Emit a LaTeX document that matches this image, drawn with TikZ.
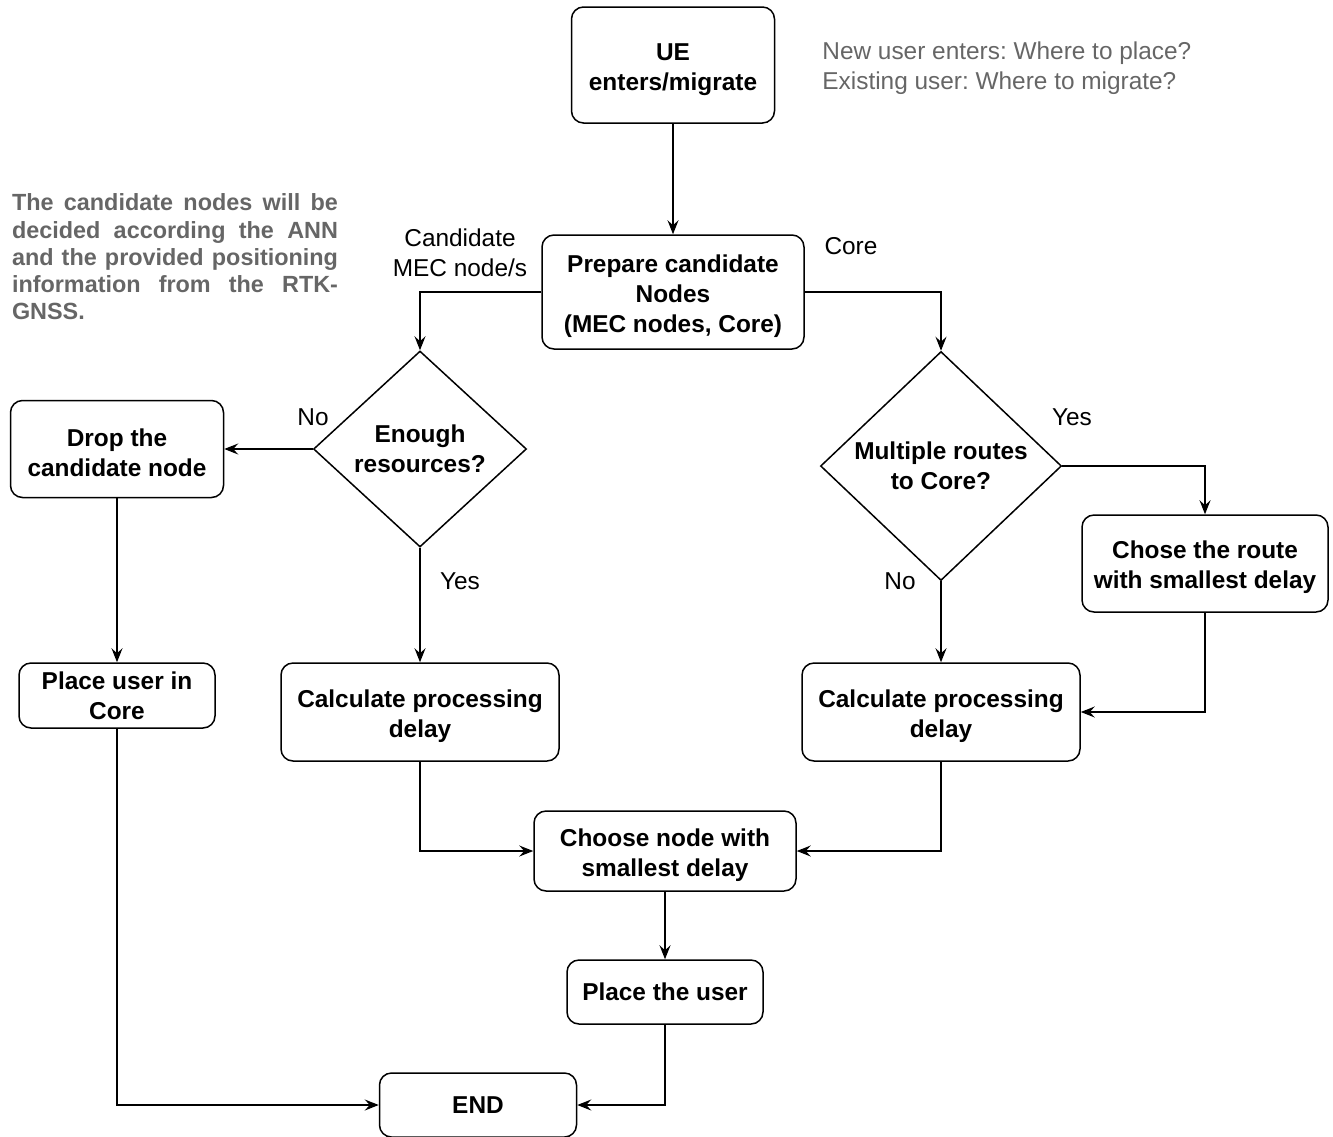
\documentclass[tikz,border=0pt]{standalone}
\usepackage{fontspec}
\setmainfont{Liberation Sans}
\frenchspacing
\usepackage{tikz}
\usetikzlibrary{shapes,arrows.meta,positioning,calc}
\definecolor{NoteGray}{RGB}{102, 102, 102}

\tikzset{
  flowbox/.style={draw, rounded corners=6pt, line width=0.75pt, align=center,
    inner sep=0pt, font=\fontsize{12.2}{15}\selectfont\bfseries},
  decision/.style={draw, diamond, line width=0.75pt, align=center,
    inner sep=0pt, font=\fontsize{12.2}{15}\selectfont\bfseries},
  branch/.style={align=center, font=\fontsize{12.2}{15}\selectfont},
  flow/.style={-{Stealth[length=7pt, width=5.5pt, inset=2.5pt]}, line width=0.75pt},
}
\newcommand{\toppad}{\rule{0pt}{13pt}}

\begin{document}
\begin{tikzpicture}[x=0.5pt, y=-0.5pt]
  \useasboundingbox (0, 0) rectangle (1333, 1136);

  % Boxes
  \node[flowbox, minimum width=101.5pt, minimum height=58pt] (ue) at (673, 65) {\toppad UE\\enters/migrate};
  \node[flowbox, minimum width=131pt, minimum height=57pt] (prep) at (673, 292) {\toppad Prepare candidate\\Nodes\\(MEC nodes, Core)};
  \node[decision, minimum width=106.5pt, minimum height=98pt] (enough) at (420, 449) {Enough\\resources?};
  \node[decision, minimum width=120.5pt, minimum height=114.5pt] (multi) at (941, 466) {Multiple routes\\to Core?};
  \node[flowbox, minimum width=106.5pt, minimum height=48.5pt] (drop) at (117, 449) {\toppad Drop the\\candidate node};
  \node[flowbox, minimum width=98pt, minimum height=32.5pt] (placecore) at (117, 695.5) {Place user in\\Core};
  \node[flowbox, minimum width=139pt, minimum height=49pt] (calcl) at (420, 712) {\toppad Calculate processing\\delay};
  \node[flowbox, minimum width=139pt, minimum height=49pt] (calcr) at (941, 712) {\toppad Calculate processing\\delay};
  \node[flowbox, minimum width=123pt, minimum height=48.5pt] (route) at (1205, 563.5) {\toppad Chose the route\\with smallest delay};
  \node[flowbox, minimum width=131pt, minimum height=40pt] (choose) at (665, 851) {\toppad Choose node with\\smallest delay};
  \node[flowbox, minimum width=98pt, minimum height=32pt] (placeuser) at (665, 992) {Place the user};
  \node[flowbox, minimum width=98.5pt, minimum height=32pt] (finish) at (478, 1105) {END};

  % Notes
  \node[anchor=west, align=left, inner sep=0pt, text=NoteGray, font=\fontsize{12.2}{15}\selectfont] (usernote) at (822, 68)
    {New user enters: Where to place?\\Existing user: Where to migrate?};
  \node[text width=163pt, align=justify, inner sep=0pt, text=NoteGray,
    font=\fontsize{11.7}{13.6}\selectfont\bfseries] (annnote) at (175, 257)
    {The candidate nodes will be\linebreak decided according the ANN\linebreak
     and the provided positioning\linebreak information from the RTK-\linebreak GNSS.};

  % Connectors
  \draw[flow] (ue) -- (prep);
  \draw[flow] (prep.west) -| (enough.north);
  \draw[flow] (prep.east) -| (multi.north);
  \draw[flow] (enough.west) -- (drop.east);
  \draw[flow] (enough.south) -- (calcl.north);
  \draw[flow] (drop) -- (placecore);
  \draw[flow] (placecore.south) |- (finish.west);
  \draw[flow] (calcl.south) |- (choose.west);
  \draw[flow] (calcr.south) |- (choose.east);
  \draw[flow] (multi.east) -| (route.north);
  \draw[flow] (multi.south) -- (calcr.north);
  \draw[flow] (route.south) |- (calcr.east);
  \draw[flow] (choose) -- (placeuser);
  \draw[flow] (placeuser.south) |- (finish.east);

  % Branch labels
  \node[branch] (candlbl) at (460, 253) {Candidate\\MEC node/s};
  \node[branch] (corelbl) at (851, 246) {Core};
  \node[branch] (nol) at (313, 417) {No};
  \node[branch] (yesl) at (460, 581) {Yes};
  \node[branch] (yesr) at (1072, 417) {Yes};
  \node[branch] (nor) at (900, 581) {No};
\end{tikzpicture}
\end{document}
